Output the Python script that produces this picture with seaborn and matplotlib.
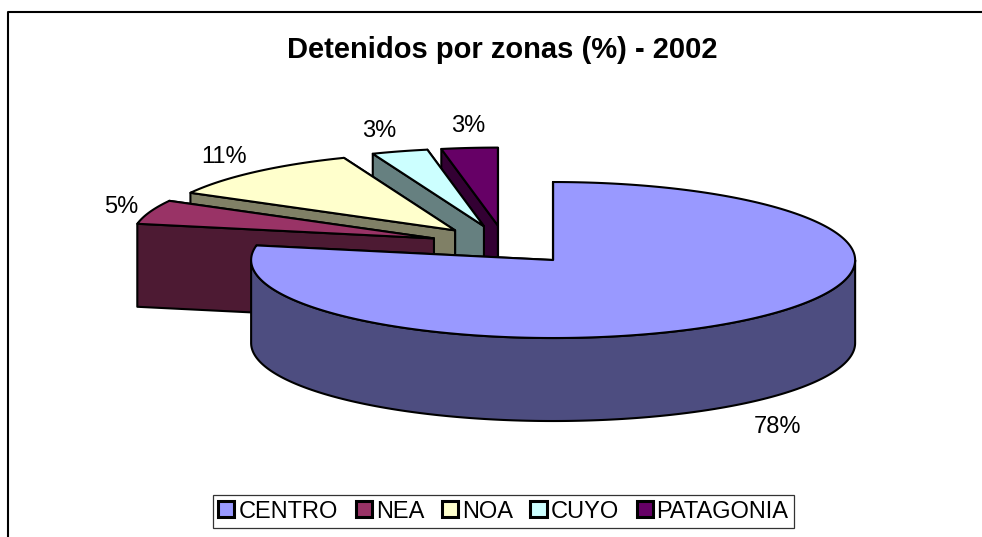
import numpy as np
import matplotlib
matplotlib.use("Agg")
import matplotlib.pyplot as plt
from matplotlib.patches import Polygon, Patch
from matplotlib import colors as mcolors
import seaborn as sns

# data
zonas = ["CENTRO", "NEA", "NOA", "CUYO", "PATAGONIA"]
porcentajes = [78, 5, 11, 3, 3]
colores = ["#9999FF", "#993366", "#FFFFCC", "#CCFFFF", "#660066"]
titulo = "Detenidos por zonas (%) - 2002"

sns.set_theme(style="white")
plt.rcParams['font.family'] = ['Liberation Sans', 'DejaVu Sans']

W, H = 982, 537
fig = plt.figure(figsize=(W / 100, H / 100), dpi=100)
ax = fig.add_axes([0, 0, 1, 1])
ax.set_xlim(0, W)
ax.set_ylim(H, 0)
ax.axis('off')

# 3d pie geometry (pixel units), excel style: start at 12 o'clock, clockwise
CX, CY = 505, 245
RX, RY = 302, 78
DEPTH = 83
EXPLODE = 0.25
LW = 1.5


def darker(c, f=0.5):
    r, g, b = mcolors.to_rgb(c)
    return (r * f, g * f, b * f)


def arc(cx, cy, t0, t1, dz=0):
    n = max(2, int(80 * (t1 - t0)))
    t = np.linspace(t0, t1, n)
    return np.column_stack([cx + RX * np.sin(t), cy - RY * np.cos(t) + dz])


total = sum(porcentajes)
bounds = np.concatenate([[0], np.cumsum(porcentajes)]) / total * 2 * np.pi
mids = (bounds[:-1] + bounds[1:]) / 2

# draw back slices first
order = np.argsort(-np.cos(mids))
z = 2
for i in order:
    a, b, m = bounds[i], bounds[i + 1], mids[i]
    cx = CX + EXPLODE * RX * np.sin(m)
    cy = CY - EXPLODE * RY * np.cos(m)
    top = colores[i]
    side = darker(top)
    v = np.array([cx, cy])
    dv = np.array([0, DEPTH])

    # radial cut faces, back facing first
    faces = []
    for t, front in [(a, np.sin(a) < 0), (b, np.sin(b) > 0)]:
        p = np.array([cx + RX * np.sin(t), cy - RY * np.cos(t)])
        faces.append((front, [v, p, p + dv, v + dv]))
    faces.sort(key=lambda f: f[0])
    for front, pts in faces:
        ax.add_patch(Polygon(pts, closed=True, facecolor=side, edgecolor='black',
                             lw=LW, joinstyle='round', zorder=z))
        z += 1

    # outer wall, only the front half is visible
    lo, hi = max(a, np.pi / 2), min(b, 3 * np.pi / 2)
    if hi > lo:
        up = arc(cx, cy, lo, hi)
        down = arc(cx, cy, lo, hi, DEPTH)[::-1]
        ax.add_patch(Polygon(np.vstack([up, down]), closed=True, facecolor=side,
                             edgecolor='black', lw=LW, joinstyle='round', zorder=z))
        z += 1

    # top face
    pts = np.vstack([v, arc(cx, cy, a, b)])
    ax.add_patch(Polygon(pts, closed=True, facecolor=top, edgecolor='black',
                         lw=LW, joinstyle='round', zorder=z))
    z += 1

# percentage labels
for i, m in enumerate(mids):
    s, c = np.sin(m), np.cos(m)
    x = CX + 1.29 * RX * s
    y = CY - 1.58 * RY * c + (DEPTH if c < 0 else 0) + 4
    ha = 'center' if abs(s) < 0.2 else ('left' if s > 0 else 'right')
    ax.text(x, y, f"{porcentajes[i]}%", ha=ha, va='center', fontsize=17,
            color='black', zorder=50)

ax.text(502, 50, titulo, ha='center', va='center', fontsize=21,
        fontweight='bold', color='black')

# chart area border (only left and top are inside the picture)
ax.plot([8, 8, W + 5], [H + 5, 12, 12], color='black', lw=1.5, clip_on=False)

handles = [Patch(facecolor=c, edgecolor='black', linewidth=2.2) for c in colores]
leg = ax.legend(handles, zonas, loc='center', bbox_to_anchor=(503.5, 511.5),
                bbox_transform=ax.transData, ncol=5, fontsize=17, frameon=True,
                fancybox=False, edgecolor='black', handlelength=0.68,
                handleheight=0.68, handletextpad=0.17, columnspacing=0.75,
                borderpad=0.25, borderaxespad=0, labelcolor='black')
leg.get_frame().set_linewidth(0.9)

plt.savefig('out.png', dpi=100)
